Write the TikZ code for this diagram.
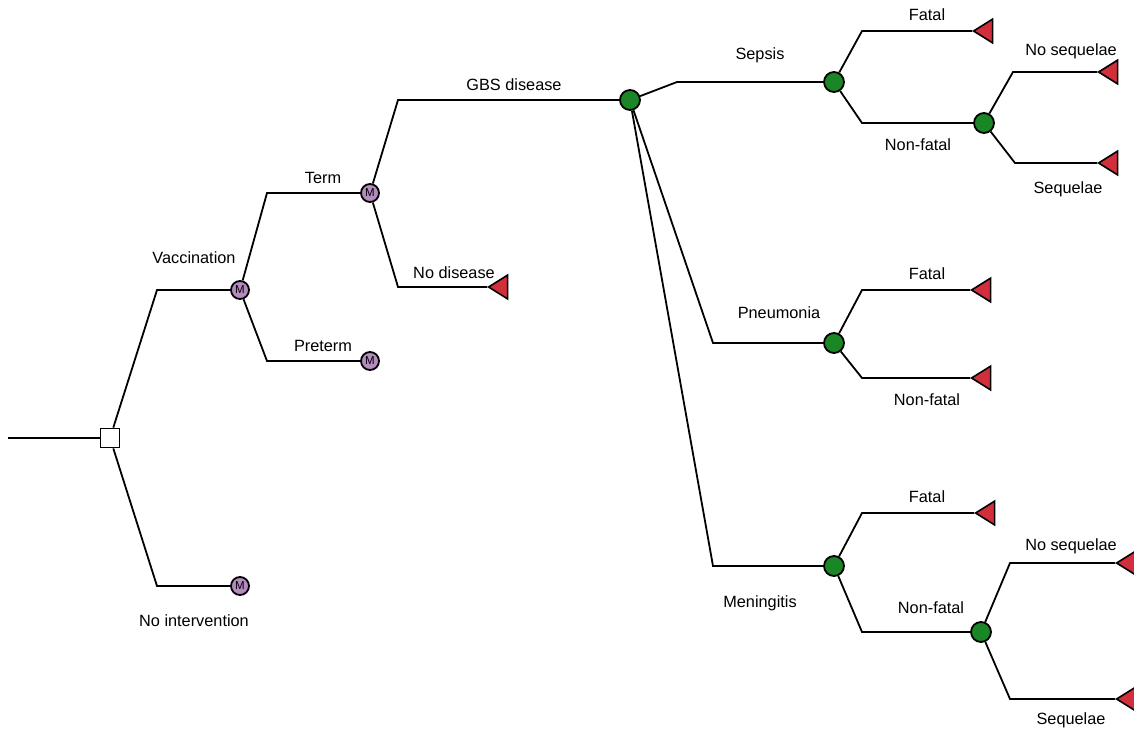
\documentclass[tikz,border=0pt]{standalone}
\usepackage{fontspec}
\setmainfont{Liberation Sans}
\usetikzlibrary{calc,shapes.geometric}
\definecolor{treegreen}{HTML}{1B8626}
\definecolor{treepurple}{HTML}{B38BBF}
\definecolor{treered}{HTML}{D12F3C}
\tikzset{
  treeline/.style={draw=black,line width=1.8pt},
  treedecision/.style={draw=black,line width=1.8pt,fill=white,minimum size=19pt,inner sep=0pt},
  treechance/.style={circle,draw=black,line width=1.8pt,fill=treegreen,minimum size=20pt,inner sep=0pt},
  treemarkov/.style={circle,draw=black,line width=1.8pt,fill=treepurple,minimum size=18pt,inner sep=0pt,font=\fontsize{11.5}{11.5}\selectfont},
  treeend/.style={isosceles triangle,shape border rotate=180,isosceles triangle apex angle=64,draw=black,line width=1.6pt,fill=treered,minimum height=19pt,inner sep=0pt},
  treelabel/.style={font=\fontsize{16.3}{19}\selectfont}
}
% slanted leg from parent, then flat run into the child
\newcommand{\treebranch}[3]{\draw[treeline] let \p1=(#1.center), \p2=(#3.center) in (#1) -- (\x1+#2,\y2) -- (#3);}

\begin{document}
\begin{tikzpicture}[x=1pt,y=-1pt]
\useasboundingbox (0,0) rectangle (1134,731);
% decision and first split
\coordinate (start) at (8,438);
\node[treedecision] (dec) at (110,438) {};
\node[treemarkov] (vac) at (240,290) {M};
\node[treemarkov] (noint) at (240,586) {M};
\node[treemarkov] (term) at (370,193) {M};
\node[treemarkov] (pre) at (370,361) {M};
\node[treeend] (nodis) at (501,287) {};
\node[treechance] (gbs) at (630,100) {};
% disease types
\node[treechance] (sep) at (834,82) {};
\node[treechance] (pne) at (834,343) {};
\node[treechance] (men) at (834,566) {};
\node[treeend] (sepf) at (986,31) {};
\node[treechance] (sepn) at (984,123) {};
\node[treeend] (sepns) at (1111,72) {};
\node[treeend] (sepsq) at (1111,163) {};
\node[treeend] (pnef) at (984,290) {};
\node[treeend] (pnen) at (984,378) {};
\node[treeend] (menf) at (988,513) {};
\node[treechance] (menn) at (981,632) {};
\node[treeend] (menns) at (1129,563) {};
\node[treeend] (mensq) at (1129,699) {};

\draw[treeline] (start) -- (dec);
\treebranch{dec}{47}{vac}
\treebranch{dec}{47}{noint}
\treebranch{vac}{27}{term}
\treebranch{vac}{27}{pre}
\treebranch{term}{28}{gbs}
\treebranch{term}{28}{nodis}
\treebranch{gbs}{47}{sep}
\treebranch{gbs}{83}{pne}
\treebranch{gbs}{83}{men}
\treebranch{sep}{28}{sepf}
\treebranch{sep}{28}{sepn}
\treebranch{sepn}{29}{sepns}
\treebranch{sepn}{31}{sepsq}
\treebranch{pne}{28}{pnef}
\treebranch{pne}{28}{pnen}
\treebranch{men}{28}{menf}
\treebranch{men}{28}{menn}
\treebranch{menn}{29}{menns}
\treebranch{menn}{29}{mensq}

% labels
\node[treelabel] at (194,258) {Vaccination};
\node[treelabel] at (194,621) {No intervention};
\node[treelabel] at (323,178) {Term};
\node[treelabel] at (323,346) {Preterm};
\node[treelabel] at (514,85) {GBS disease};
\node[treelabel] at (454,273) {No disease};
\node[treelabel] at (760,55) {Sepsis};
\node[treelabel] at (779,313) {Pneumonia};
\node[treelabel] at (760,603) {Meningitis};
\node[treelabel] at (927,15) {Fatal};
\node[treelabel] at (918,145) {Non-fatal};
\node[treelabel] at (1071,51) {No sequelae};
\node[treelabel] at (1068,189) {Sequelae};
\node[treelabel] at (927,274) {Fatal};
\node[treelabel] at (927,400) {Non-fatal};
\node[treelabel] at (927,497) {Fatal};
\node[treelabel] at (931,608) {Non-fatal};
\node[treelabel] at (1071,546) {No sequelae};
\node[treelabel] at (1071,720) {Sequelae};
\end{tikzpicture}
\end{document}
